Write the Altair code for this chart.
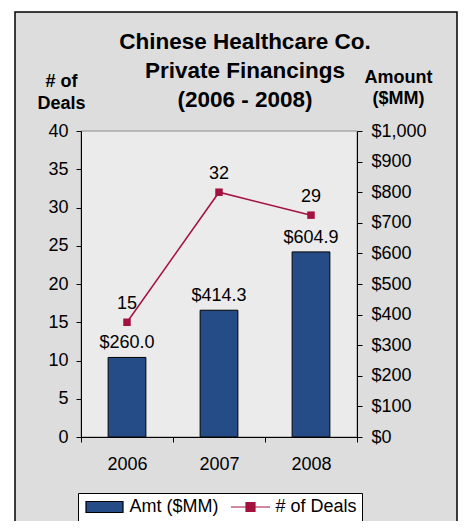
import altair as alt
import pandas as pd

# ---- data ----
years = ["2006", "2007", "2008"]
amounts = [260.0, 414.3, 604.9]          # Amt ($MM), right axis
deals = [15, 32, 29]                     # # of Deals, left axis
amt_ticks = [0, 100, 200, 300, 400, 500, 600, 700, 800, 900, 1000]
deal_ticks = [0, 5, 10, 15, 20, 25, 30, 35, 40]
BAR_NAME = "Amt ($MM)"
LINE_NAME = "# of Deals"
title_lines = ["Chinese Healthcare Co.", "Private Financings", "(2006 - 2008)"]

df_amt = pd.DataFrame({"year": years, "amt": amounts, "series": BAR_NAME})
df_deals = pd.DataFrame({"year": years, "deals": deals, "series": LINE_NAME})
df_one = pd.DataFrame({"k": [0]})

# ---- styles ----
W, H = 276, 306
FONT = "Liberation Sans"
BLUE = "#264c87"
RED = "#a3113f"
OUTER = "#dddddd"
INNER = "#ebebeb"

# legend symbols (symbolSize 100 -> unit = 5px)
BAR_PATH = "M-3.7,-1.1H3.7V1.1H-3.7Z"
LINE_PATH = "M-3.9,0H3.9M-0.9,-0.9H0.9V0.9H-0.9Z"
shape_expr = f"datum.value === '{LINE_NAME}' ? '{LINE_PATH}' : '{BAR_PATH}'"
stroke_expr = f"datum.value === '{LINE_NAME}' ? '{RED}' : 'black'"

legend = alt.Legend(
    title=None, orient="none", legendX=-3, legendY=362, direction="horizontal",
    fillColor="white", strokeColor="black", padding=5,
    labelFontSize=18, labelFont=FONT, labelColor="black",
    symbolSize=100, symbolOffset=12.5, labelOffset=16, columnPadding=9,
    symbolOpacity=1, symbolStrokeWidth=1.2,
    symbolType=alt.ExprRef(shape_expr),
    symbolStrokeColor=alt.ExprRef(stroke_expr),
)
fill_scale = alt.Scale(domain=[BAR_NAME, LINE_NAME], range=[BLUE, RED])

x_enc = alt.X(
    "year:N", sort=years,
    scale=alt.Scale(paddingInner=0, paddingOuter=0),
    axis=alt.Axis(title=None, labelAngle=0, tickBand="extent", labelFontSize=18,
                  labelFont=FONT, labelColor="black", labelPadding=13, tickSize=5,
                  tickColor="black", domainColor="black", zindex=1),
)

amt_scale = alt.Scale(domain=[0, 1000], nice=False, zero=True)
deal_scale = alt.Scale(domain=[0, 40], nice=False, zero=True)

frame = alt.Chart(df_one).mark_rect(fill=OUTER, stroke="black", strokeWidth=1.5).encode(
    x=alt.value(-66), x2=alt.value(376), y=alt.value(-119), y2=alt.value(420))
bg = alt.Chart(df_one).mark_rect(fill=INNER, stroke="#8c8c8c", strokeWidth=1).encode(
    x=alt.value(0), x2=alt.value(W), y=alt.value(0), y2=alt.value(H))

bars = alt.Chart(df_amt).mark_bar(width=alt.RelativeBandSize(0.41), stroke="black", strokeWidth=1).encode(
    x=x_enc,
    y=alt.Y("amt:Q", scale=amt_scale,
            axis=alt.Axis(orient="right", values=amt_ticks, format="$,.0f", grid=False,
                          labelFontSize=18, labelFont=FONT, labelColor="black", labelPadding=9,
                          tickSize=5, tickColor="black", domainColor="black", zindex=1,
                          title=["Amount", "($MM)"], titleAngle=0, titleAlign="center",
                          titleBaseline="alphabetic", titleX=41, titleY=-49,
                          titleFontSize=18, titleFont=FONT, titleFontWeight="bold",
                          titleLineHeight=21, titleColor="black")),
    fill=alt.Fill("series:N", scale=fill_scale, legend=legend),
)
bar_labels = alt.Chart(df_amt).mark_text(dy=-14, fontSize=18, font=FONT, color="black").encode(
    x=x_enc,
    y=alt.Y("amt:Q", scale=amt_scale, axis=None),
    text=alt.Text("amt:Q", format="$.1f"),
)

line = alt.Chart(df_deals).mark_line(color=RED, strokeWidth=1.5).encode(
    x=x_enc,
    y=alt.Y("deals:Q", scale=deal_scale,
            axis=alt.Axis(orient="left", values=deal_ticks, grid=False,
                          labelFontSize=18, labelFont=FONT, labelColor="black", labelPadding=8,
                          tickSize=5, tickColor="black", domainColor="black", zindex=1,
                          title=["# of", "Deals"], titleAngle=0, titleAlign="center",
                          titleBaseline="alphabetic", titleX=-20, titleY=-45,
                          titleFontSize=18, titleFont=FONT, titleFontWeight="bold",
                          titleLineHeight=22, titleColor="black")),
)
pts = alt.Chart(df_deals).mark_square(size=56, opacity=1).encode(
    x=x_enc,
    y=alt.Y("deals:Q", scale=deal_scale, axis=None),
    fill=alt.Fill("series:N", scale=fill_scale, legend=legend),
)
deal_labels = alt.Chart(df_deals).mark_text(dy=-18, fontSize=18, font=FONT, color="black").encode(
    x=x_enc,
    y=alt.Y("deals:Q", scale=deal_scale, axis=None),
    text=alt.Text("deals:Q"),
)

chart = alt.layer(
    frame, bg, bars, line, pts, bar_labels, deal_labels,
).resolve_scale(y="independent").properties(
    width=W, height=H,
    autosize=alt.AutoSizeParams(type="none"),
    padding={"left": 73, "top": 123, "right": 102, "bottom": 84},
    background="white",
    title=alt.TitleParams(title_lines, fontSize=22.5, font=FONT, fontWeight="bold", color="black",
                          anchor="middle", frame="group", dx=26, dy=104, lineHeight=29, offset=4),
).configure_view(strokeWidth=0)

chart.save("out.html", embed_options={"renderer": "svg", "actions": False})
